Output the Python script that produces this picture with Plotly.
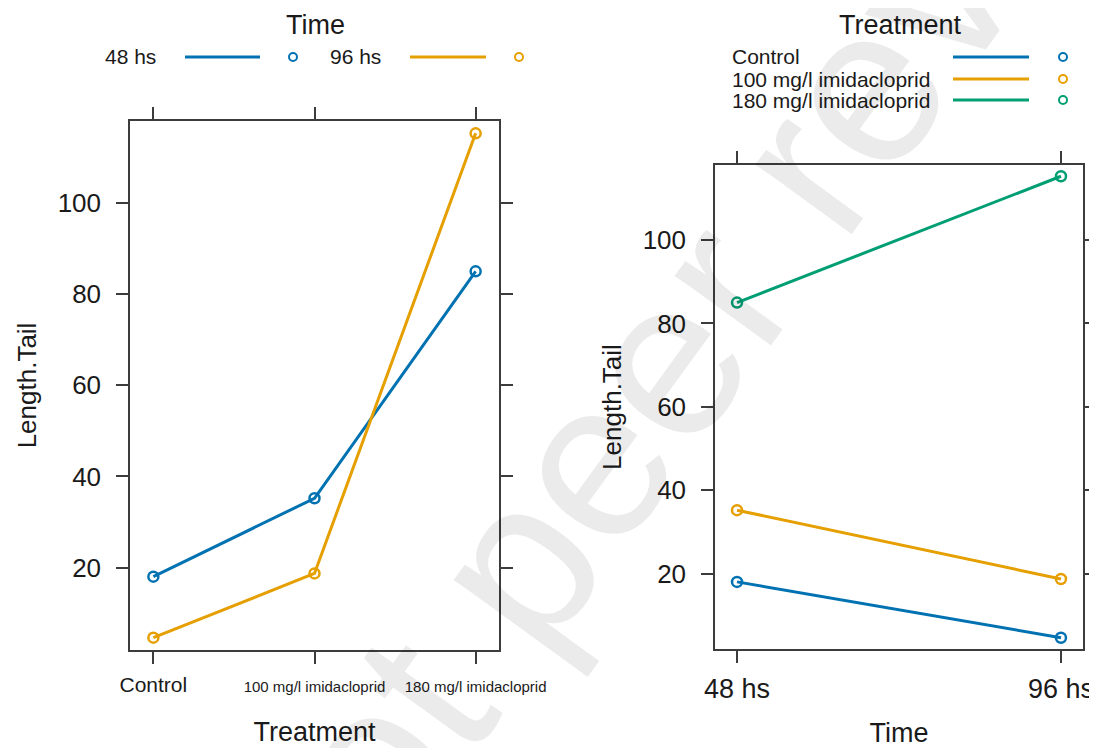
import plotly.graph_objects as go

# ---------------- data ----------------
treatments = ["Control", "100 mg/l imidacloprid", "180 mg/l imidacloprid"]
times = ["48 hs", "96 hs"]
# mean Length.Tail for each treatment at each time
tail_48 = [18.0, 35.2, 85.0]
tail_96 = [4.6, 18.7, 115.3]
y_ticks = [20, 40, 60, 80, 100]

time_colors = ["#0072B2", "#E69F00"]
treat_colors = ["#0072B2", "#E69F00", "#009E73"]

# the page body keeps an 8px margin, so the figure is drawn 8px in from the corner
OFF = 8
VW, VH = 1097, 748
W, H = VW - OFF, VH - OFF
FONT = "Liberation Sans, Arial, Helvetica, sans-serif"
INK = "#1a1a1a"
BOX = "#3c3c3c"


def px(x):
    return (x - OFF) / W


def py(y):
    return 1 - (y - OFF) / H


fig = go.Figure()

# ---- left panel: x = Treatment, one line per Time ----
tx = list(range(1, len(treatments) + 1))
for name, vals, col in zip(times, [tail_48, tail_96], time_colors):
    fig.add_trace(go.Scatter(
        x=tx, y=vals, mode="lines+markers", name=name,
        line=dict(color=col, width=3),
        marker=dict(symbol="circle-open", size=10, color=col, line=dict(width=2.5, color=col)),
        xaxis="x", yaxis="y", showlegend=False))

# ---- right panel: x = Time, one line per Treatment ----
tmx = list(range(1, len(times) + 1))
for i, (name, col) in enumerate(zip(treatments, treat_colors)):
    fig.add_trace(go.Scatter(
        x=tmx, y=[tail_48[i], tail_96[i]], mode="lines+markers", name=name,
        line=dict(color=col, width=3),
        marker=dict(symbol="circle-open", size=10, color=col, line=dict(width=2.5, color=col)),
        xaxis="x2", yaxis="y2", showlegend=False))

axis_common = dict(showline=True, linecolor=BOX, linewidth=1.5, mirror="allticks",
                   ticks="outside", ticklen=12, tickwidth=1.5, tickcolor=BOX,
                   showgrid=False, zeroline=False, fixedrange=True, automargin=False)

small = [f'<span style="font-size:21px">{treatments[0]}</span>'] + treatments[1:]

fig.update_layout(
    width=W, height=H,
    margin=dict(l=0, r=0, t=0, b=0),
    paper_bgcolor="white", plot_bgcolor="rgba(0,0,0,0)",
    font=dict(family=FONT, color=INK),
    xaxis=dict(axis_common, domain=[px(130), px(499)], anchor="y",
               range=[0.855, 3.145], tickvals=tx, ticktext=small,
               tickfont=dict(size=15, color=INK), ticklabelstandoff=10,
               title=dict(text="Treatment", font=dict(size=27, color=INK), standoff=27)),
    yaxis=dict(axis_common, domain=[py(650), py(121)], anchor="x",
               range=[1.9, 118.0], tickvals=y_ticks,
               tickfont=dict(size=26, color=INK), ticklabelstandoff=10,
               title=dict(text="Length.Tail", font=dict(size=26, color=INK), standoff=14)),
    xaxis2=dict(axis_common, domain=[px(715), px(1083)], anchor="y2",
                range=[0.932, 2.068], tickvals=tmx, ticktext=times,
                tickfont=dict(size=27, color=INK), ticklabelstandoff=3,
                title=dict(text="Time", font=dict(size=27, color=INK), standoff=28)),
    yaxis2=dict(axis_common, domain=[py(649), py(165)], anchor="x2",
                range=[1.9, 118.0], tickvals=y_ticks,
                tickfont=dict(size=26, color=INK), ticklabelstandoff=10,
                title=dict(text="Length.Tail", font=dict(size=26, color=INK), standoff=14)),
)

annotations = []
shapes = []


def key(x_text, x_l0, x_l1, x_c, y, label, col):
    annotations.append(dict(text=label, x=px(x_text), y=py(y), xref="paper", yref="paper",
                            xanchor="left", yanchor="middle", showarrow=False,
                            font=dict(size=21, color=INK, family=FONT)))
    shapes.append(dict(type="line", xref="paper", yref="paper",
                       x0=px(x_l0), x1=px(x_l1), y0=py(y), y1=py(y),
                       line=dict(color=col, width=3)))
    shapes.append(dict(type="circle", xref="paper", yref="paper",
                       xsizemode="pixel", ysizemode="pixel",
                       xanchor=px(x_c), yanchor=py(y), x0=-4, x1=4, y0=-4, y1=4,
                       line=dict(color=col, width=2)))


# left key (Time)
annotations.append(dict(text="Time", x=px(315), y=py(25), xref="paper", yref="paper",
                        showarrow=False, xanchor="center", yanchor="middle",
                        font=dict(size=27, color=INK, family=FONT)))
key(103, 185, 260, 293, 57, times[0], time_colors[0])
key(328, 410, 486, 519, 57, times[1], time_colors[1])

# right key (Treatment)
annotations.append(dict(text="Treatment", x=px(900), y=py(25), xref="paper", yref="paper",
                        showarrow=False, xanchor="center", yanchor="middle",
                        font=dict(size=27, color=INK, family=FONT)))
for i, (lab, col) in enumerate(zip(treatments, treat_colors)):
    key(730, 953, 1029, 1063, [57, 79, 100][i], lab, col)

# watermark
annotations.append(dict(text="Not peer reviewed", x=px(772), y=py(211), xref="paper", yref="paper",
                        showarrow=False, xanchor="center", yanchor="middle", textangle=-54,
                        font=dict(size=225, color="rgba(0,0,0,0.08)", family=FONT)))

fig.update_layout(annotations=annotations, shapes=shapes)

fig.write_html("out.html")
